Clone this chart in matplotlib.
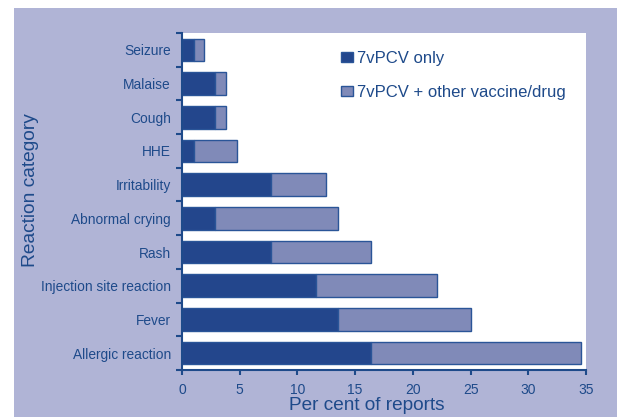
import matplotlib
matplotlib.use("Agg")
import matplotlib.pyplot as plt
from matplotlib.patches import Rectangle, Patch
import numpy as np

categories = ["Seizure", "Malaise", "Cough", "HHE", "Irritability", "Abnormal crying",
              "Rash", "Injection site reaction", "Fever", "Allergic reaction"]
only_7vpcv = [1.0, 2.9, 2.9, 1.0, 7.7, 2.9, 7.7, 11.6, 13.5, 16.4]
total = [1.9, 3.8, 3.8, 4.8, 12.5, 13.5, 16.4, 22.1, 25.0, 34.6]
other = [t - o for t, o in zip(total, only_7vpcv)]
series_names = ["7vPCV only", "7vPCV + other vaccine/drug"]
xticks = [0, 5, 10, 15, 20, 25, 30, 35]

W, H = 617, 417
bg = "#B0B4D6"
dark = "#23468C"
light = "#808AB8"
edge = "#2A5598"
txt = "#1E4A8A"

plt.rcParams['font.family'] = ['Liberation Sans', 'DejaVu Sans']

fig = plt.figure(figsize=(W / 100, H / 100), dpi=100, facecolor="white")
fig.patches.append(Rectangle((14 / W, 0), 1 - 14 / W, 1 - 8 / H, transform=fig.transFigure,
                             facecolor=bg, edgecolor="none", zorder=-10))

ax = fig.add_axes([182 / W, (H - 370) / H, (586 - 182) / W, (370 - 33) / H])
ax.set_facecolor("white")

y = np.arange(len(categories))
ax.barh(y, only_7vpcv, height=0.67, color=dark, edgecolor=edge, linewidth=1.0, label=series_names[0])
ax.barh(y, other, left=only_7vpcv, height=0.67, color=light, edgecolor=edge, linewidth=1.0,
        label=series_names[1])

ax.set_xlim(0, 35)
ax.set_ylim(len(categories) - 0.5, -0.5)

for s in ["top", "right"]:
    ax.spines[s].set_visible(False)
for s in ["left", "bottom"]:
    ax.spines[s].set_color(txt)
    ax.spines[s].set_linewidth(1.5)

ax.set_xticks(xticks)
ax.set_xticklabels([str(v) for v in xticks])
ax.tick_params(axis="x", colors=txt, labelcolor=txt, labelsize=10, length=3.5, width=1.5, pad=6)

ax.set_yticks(np.arange(-0.5, len(categories), 1.0))
ax.set_yticklabels([])
ax.tick_params(axis="y", which="major", colors=txt, length=4.3, width=1.5)
ax.set_yticks(y, minor=True)
ax.set_yticklabels(categories, minor=True)
ax.tick_params(axis="y", which="minor", length=0, labelcolor=txt, labelsize=9.9, pad=8)

ax.set_xlabel("Per cent of reports", color=txt, fontsize=13.7)
ax.xaxis.set_label_coords((367 - 182) / 404, -(405 - 370) / 337)
ax.xaxis.label.set_va("center")
fig.text(31 / W, 1 - 190 / H, "Reaction category", rotation=90, ha="center", va="center",
         color=txt, fontsize=13.8)

handles = [Patch(facecolor=dark, edgecolor=edge, linewidth=1.0),
           Patch(facecolor=light, edgecolor=edge, linewidth=1.0)]
leg = ax.legend(handles, series_names, loc="upper left",
                bbox_to_anchor=((341 - 182) / 404, 1 - (51 - 33) / 337),
                frameon=False, fontsize=12, handlelength=0.72, handleheight=0.6,
                handletextpad=0.25, labelspacing=1.12, borderpad=0, borderaxespad=0)
for t in leg.get_texts():
    t.set_color(txt)

fig.savefig("out.png", dpi=100, facecolor="white")
